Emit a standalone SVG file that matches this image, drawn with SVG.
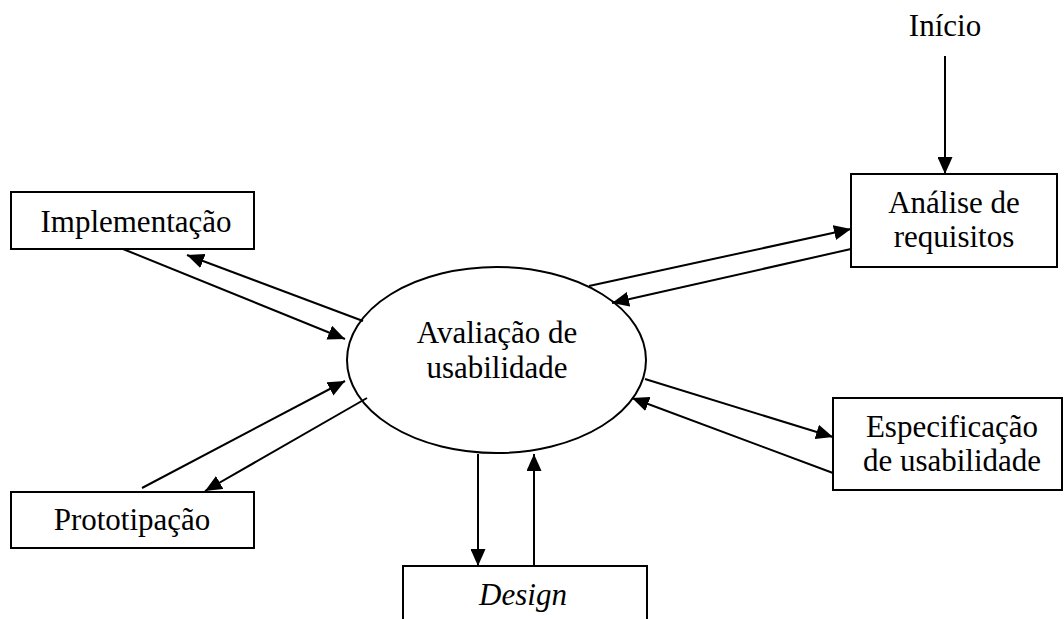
<svg xmlns="http://www.w3.org/2000/svg" width="1064" height="619" viewBox="0 0 1064 619">
  <style>
    .box { fill: #fff; stroke: #000; stroke-width: 2; }
    .lbl { font-family: "Liberation Serif", "Times New Roman", serif; font-size: 31px; fill: #000; text-anchor: middle; }
    .it { font-style: italic; }
    .arr { stroke: #000; stroke-width: 2; fill: none; marker-end: url(#head); }
  </style>
  <defs>
    <marker id="head" viewBox="0 0 17 15" refX="17" refY="7.5" markerWidth="17" markerHeight="15" markerUnits="userSpaceOnUse" orient="auto">
      <path d="M0,0 L17,7.5 L0,15 Z" fill="#000"/>
    </marker>
  </defs>
  <rect width="1064" height="619" fill="#fff"/>

  <g id="inicio">
    <text class="lbl" x="945" y="36">Início</text>
  </g>

  <g id="avaliacao">
    <ellipse cx="496.5" cy="360" rx="149.5" ry="93" fill="#fff" stroke="#000" stroke-width="2"/>
    <text class="lbl" x="497" y="343">Avaliação de</text>
    <text class="lbl" x="497" y="378">usabilidade</text>
  </g>

  <g id="analise">
    <rect class="box" x="851" y="174" width="206" height="93"/>
    <text class="lbl" x="954" y="213">Análise de</text>
    <text class="lbl" x="954" y="247">requisitos</text>
  </g>

  <g id="implementacao">
    <rect class="box" x="11" y="192" width="243" height="57"/>
    <text class="lbl" x="136" y="232">Implementação</text>
  </g>

  <g id="prototipacao">
    <rect class="box" x="11" y="492" width="243" height="56"/>
    <text class="lbl" x="132" y="530">Prototipação</text>
  </g>

  <g id="especificacao">
    <rect class="box" x="833" y="398" width="229" height="92"/>
    <text class="lbl" x="952" y="437">Especificação</text>
    <text class="lbl" x="952" y="471">de usabilidade</text>
  </g>

  <g id="design">
    <rect class="box" x="403" y="566" width="244" height="70"/>
    <text class="lbl it" x="523" y="605">Design</text>
  </g>

  <g id="connectors">
    <line class="arr" x1="945" y1="56" x2="945" y2="174"/>
    <line class="arr" x1="589" y1="286" x2="851" y2="229"/>
    <line class="arr" x1="851" y1="249" x2="612" y2="303"/>
    <line class="arr" x1="123" y1="249" x2="345" y2="339"/>
    <line class="arr" x1="363" y1="321" x2="187" y2="255"/>
    <line class="arr" x1="142" y1="488" x2="345" y2="381"/>
    <line class="arr" x1="367" y1="398" x2="205" y2="491"/>
    <line class="arr" x1="478" y1="454" x2="478" y2="566"/>
    <line class="arr" x1="534" y1="566" x2="534" y2="454"/>
    <line class="arr" x1="645" y1="379" x2="833" y2="437"/>
    <line class="arr" x1="833" y1="473" x2="632" y2="398"/>
  </g>
</svg>
